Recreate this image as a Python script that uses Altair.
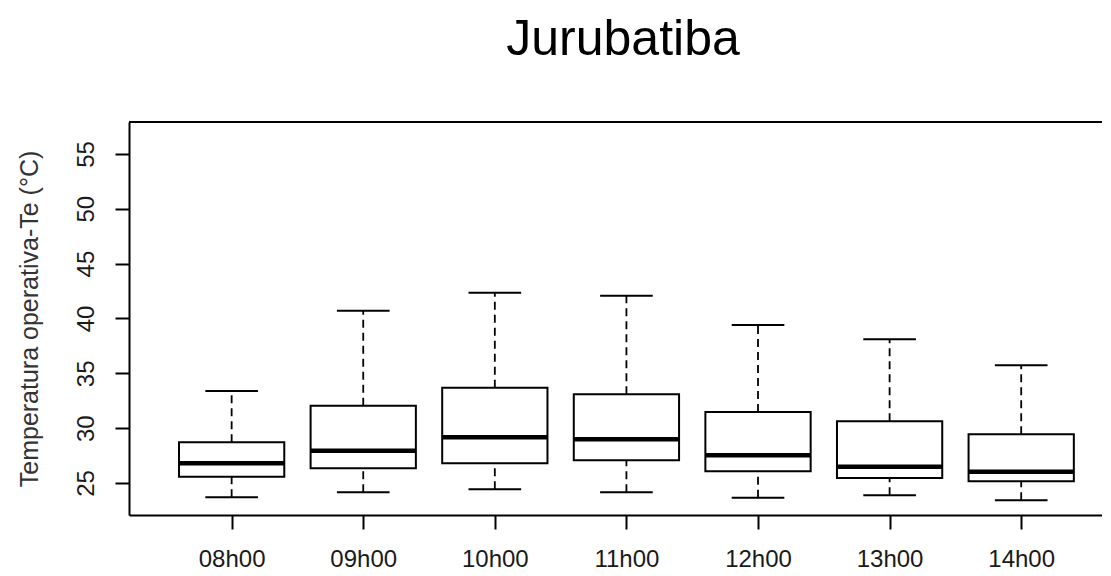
import altair as alt
import pandas as pd

hours = ["08h00", "09h00", "10h00", "11h00", "12h00", "13h00", "14h00"]
lower = [23.70, 24.15, 24.43, 24.15, 23.66, 23.88, 23.42]
q1 = [25.57, 26.34, 26.80, 27.07, 26.07, 25.46, 25.15]
median = [26.80, 27.94, 29.17, 28.98, 27.52, 26.49, 26.03]
q3 = [28.71, 32.05, 33.69, 33.09, 31.47, 30.62, 29.44]
upper = [33.39, 40.71, 42.35, 42.07, 39.40, 38.10, 35.73]
y_ticks = [25, 30, 35, 40, 45, 50, 55]
chart_title = "Jurubatiba"

df = pd.DataFrame({
    "hour": hours,
    "pos": list(range(1, len(hours) + 1)),
    "lower": lower, "q1": q1, "median": median, "q3": q3, "upper": upper,
})

W, H = 973, 393
FONT = "Liberation Sans"

label_expr = "[" + ",".join(f"'{h}'" for h in hours) + "][datum.value - 1]"

xscale = alt.Scale(domain=[0.22, 7.614], nice=False, zero=False)
yscale = alt.Scale(domain=[22.08, 57.91], nice=False, zero=False)

xaxis = alt.Axis(values=list(range(1, len(hours) + 1)), labelExpr=label_expr, title=None,
                 grid=False, tickSize=14, tickWidth=2, tickColor="black",
                 domainColor="black", domainWidth=2, labelFont=FONT, labelFontSize=24,
                 labelColor="#1a1a1a", labelPadding=18, labelBaseline="top", labelAngle=0)
yaxis = alt.Axis(values=y_ticks, title="Temperatura operativa-Te (°C)", grid=False,
                 tickSize=14, tickWidth=2, tickColor="black", domainColor="black", domainWidth=2,
                 labelFont=FONT, labelFontSize=24, labelColor="#1a1a1a", labelAngle=270,
                 labelAlign="center", labelBaseline="alphabetic", labelPadding=22,
                 titleFont=FONT, titleFontSize=25, titleFontWeight="normal", titleColor="#333",
                 titleAngle=270, titleAlign="center", titleBaseline="alphabetic",
                 titleX=-92, titleY=H / 2)

base = alt.Chart(df).transform_calculate(
    left="datum.pos - 0.4", right="datum.pos + 0.4",
    capl="datum.pos - 0.2", capr="datum.pos + 0.2",
)

whisk_hi = base.mark_rule(color="black", strokeWidth=1.8, strokeDash=[8, 5]).encode(
    x=alt.X("pos:Q", scale=xscale, axis=xaxis),
    y=alt.Y("q3:Q", scale=yscale, axis=yaxis),
    y2="upper:Q",
)
whisk_lo = base.mark_rule(color="black", strokeWidth=1.8, strokeDash=[8, 5]).encode(
    x="pos:Q", y="lower:Q", y2="q1:Q",
)
cap_hi = base.mark_rule(color="black", strokeWidth=2).encode(
    x="capl:Q", x2="capr:Q", y="upper:Q",
)
cap_lo = base.mark_rule(color="black", strokeWidth=2).encode(
    x="capl:Q", x2="capr:Q", y="lower:Q",
)
box = base.mark_rect(fill="white", stroke="black", strokeWidth=2).encode(
    x="left:Q", x2="right:Q", y="q1:Q", y2="q3:Q",
)
med = base.mark_rule(color="black", strokeWidth=4.5).encode(
    x="left:Q", x2="right:Q", y="median:Q",
)
top_frame = alt.Chart(df).mark_rule(color="black", strokeWidth=2).encode(
    x=alt.value(0), x2=alt.value(W), y=alt.value(0)
)
title_df = pd.DataFrame({"t": [chart_title]})
title_txt = alt.Chart(title_df).mark_text(
    font=FONT, fontSize=50, color="black", align="center", baseline="alphabetic"
).encode(text="t:N", x=alt.value(494), y=alt.value(-67))

chart = alt.layer(whisk_hi, whisk_lo, cap_hi, cap_lo, box, med, top_frame, title_txt).properties(
    width=W, height=H,
    autosize=alt.AutoSizeParams(type="none"),
    padding={"left": 121, "top": 114, "right": 0, "bottom": 58},
    background="white",
).configure_view(stroke=None)

chart.save("out.html", embed_options={"renderer": "svg", "actions": False})
